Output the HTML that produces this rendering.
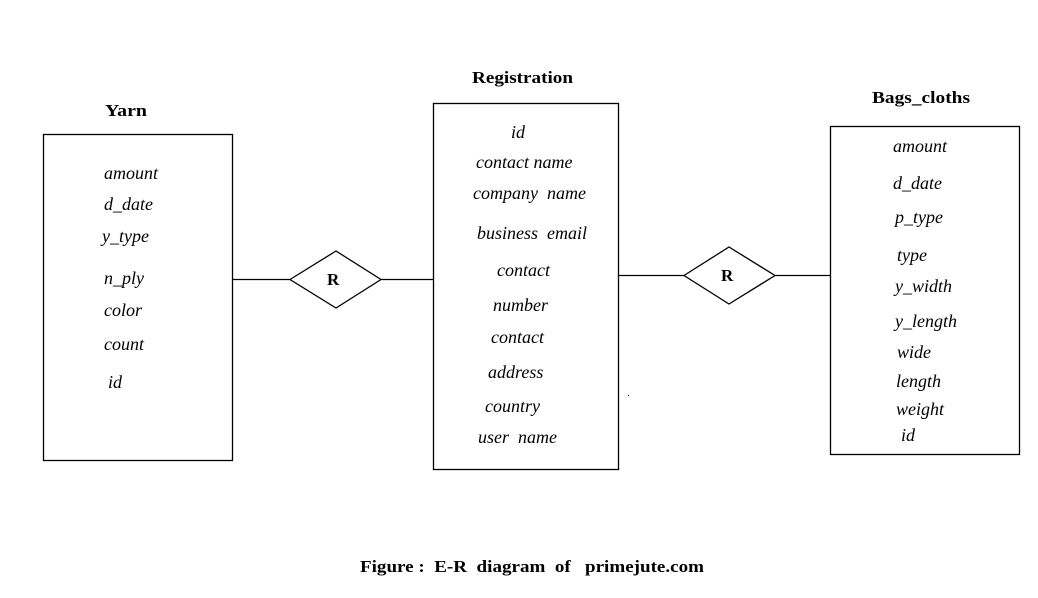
<!DOCTYPE html>
<html><head><style>html,body{margin:0;padding:0;background:#fff;}svg{display:block}</style></head>
<body>
<svg width="1038" height="598" xmlns="http://www.w3.org/2000/svg" font-family="Liberation Serif, serif">
<rect width="1038" height="598" fill="#fff"/>
<g fill="none" stroke="#000" stroke-width="1.3">
<rect x="43.5" y="134.5" width="189" height="326"/>
<rect x="433.5" y="103.5" width="185" height="366"/>
<rect x="830.5" y="126.5" width="189" height="328"/>
<line x1="233" y1="279.5" x2="290" y2="279.5"/>
<line x1="381" y1="279.5" x2="433" y2="279.5"/>
<polygon points="290,279.5 336,251 381,279.5 336,308" fill="#fff"/>
<line x1="619" y1="275.5" x2="684" y2="275.5"/>
<line x1="775" y1="275.5" x2="830" y2="275.5"/>
<polygon points="684,275.5 729,247 775,275.5 729,304" fill="#fff"/>
</g>
<rect x="628" y="395" width="1" height="1" fill="#000"/>
<g font-weight="bold" font-size="17" fill="#000">
<text x="105" y="116" textLength="42" lengthAdjust="spacingAndGlyphs">Yarn</text>
<text x="472" y="83" textLength="101" lengthAdjust="spacingAndGlyphs">Registration</text>
<text x="872" y="103" textLength="98" lengthAdjust="spacingAndGlyphs">Bags_cloths</text>
<text x="327" y="285" font-size="17">R</text>
<text x="721" y="281" font-size="17">R</text>
<text x="360" y="572" font-size="17" xml:space="preserve" textLength="344" lengthAdjust="spacingAndGlyphs">Figure :  E-R  diagram  of   primejute.com</text>
</g>
<g font-style="italic" font-size="18" fill="#000">
<text x="104" y="179">amount</text>
<text x="104" y="210">d_date</text>
<text x="102" y="242">y_type</text>
<text x="104" y="284">n_ply</text>
<text x="104" y="316">color</text>
<text x="104" y="350">count</text>
<text x="108" y="388">id</text>

<text x="511" y="138">id</text>
<text x="476" y="168">contact name</text>
<text x="473" y="199" xml:space="preserve">company  name</text>
<text x="477" y="239" xml:space="preserve">business  email</text>
<text x="497" y="276">contact</text>
<text x="493" y="311">number</text>
<text x="491" y="343">contact</text>
<text x="488" y="378">address</text>
<text x="485" y="412">country</text>
<text x="478" y="443" xml:space="preserve">user  name</text>

<text x="893" y="152">amount</text>
<text x="893" y="189">d_date</text>
<text x="895" y="223">p_type</text>
<text x="897" y="261">type</text>
<text x="895" y="292">y_width</text>
<text x="895" y="327">y_length</text>
<text x="897" y="358">wide</text>
<text x="896" y="387">length</text>
<text x="896" y="415">weight</text>
<text x="901" y="441">id</text>
</g>
</svg>
</body></html>
